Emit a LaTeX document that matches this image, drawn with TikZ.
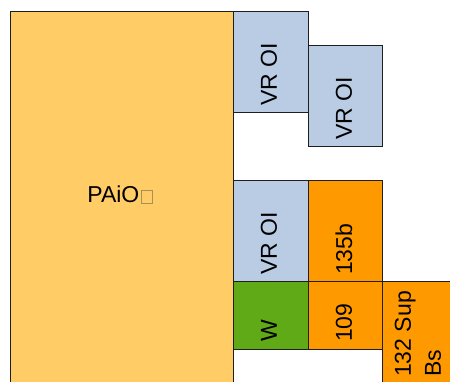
\documentclass[tikz,border=0pt]{standalone}
\usepackage{fontspec}
\setmainfont{Liberation Sans}
\definecolor{paio}{HTML}{FFCC66}
\definecolor{vrblue}{HTML}{B9CCE4}
\definecolor{orng}{HTML}{FF9900}
\definecolor{grn}{HTML}{60A917}
\definecolor{edge}{HTML}{1E1E1E}
\definecolor{sq}{HTML}{A8905A}
\tikzset{
  cell/.style={draw=edge, line width=1pt, rectangle, inner sep=0pt},
  vlabel/.style={rotate=90, anchor=west, inner sep=0pt, font=\fontsize{23}{30}\selectfont, text=black},
}
\begin{document}
\begin{tikzpicture}[x=1pt,y=-1pt]
\useasboundingbox (0,0) rectangle (450,382);
\clip (0,0) rectangle (450,382);
\node[cell, fill=paio, minimum width=223pt, minimum height=383pt] (paio) at (121.5,203.5) {};
\node[inner sep=0pt, font=\fontsize{23}{28}\selectfont] (paiotxt) at (120,195) {PAiO\hspace{1.5pt}\textcolor{sq}{\fboxsep=0pt\fboxrule=0.9pt\fbox{\rule{0pt}{12pt}\rule{10pt}{0pt}}}};
\node[cell, fill=vrblue, minimum width=75pt, minimum height=101pt] (vr1) at (270.5,62.5) {};
\node[cell, fill=vrblue, minimum width=74pt, minimum height=101pt] (vr2) at (345,96.5) {};
\node[cell, fill=vrblue, minimum width=75pt, minimum height=101pt] (vr3) at (270.5,231.5) {};
\node[cell, fill=orng, minimum width=74pt, minimum height=101pt] (b135) at (345,231.5) {};
\node[cell, fill=grn, minimum width=75pt, minimum height=67pt] (w) at (270.5,315.5) {};
\node[cell, fill=orng, minimum width=74pt, minimum height=67pt] (b109) at (345,315.5) {};
\node[cell, fill=orng, minimum width=76pt, minimum height=118pt] (b132) at (420,341) {};
\node[vlabel] (t1) at (269,106) {VR OI};
\node[vlabel] (t2) at (344,140) {VR OI};
\node[vlabel] (t3) at (269,275) {VR OI};
\node[vlabel] (t4) at (344,275) {135b};
\node[vlabel] (t5) at (269,342) {W};
\node[vlabel] (t6) at (344,342) {109};
\node[vlabel, align=left] (t7) at (418,377) {132 Sup\\Bs};
\end{tikzpicture}
\end{document}
